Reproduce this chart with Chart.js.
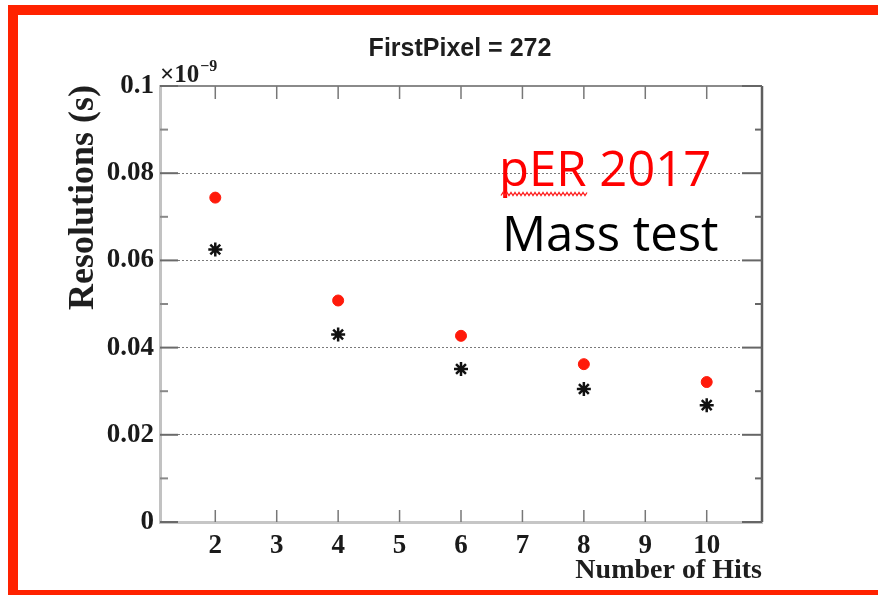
<!DOCTYPE html>
<html>
<head>
<meta charset="utf-8">
<script src="https://cdn.jsdelivr.net/npm/chart.js@4.4.1/dist/chart.umd.min.js"></script>
<style>
  html, body { margin: 0; padding: 0; background: #fff; overflow: hidden; }
  #frame {
    position: absolute; left: 8px; top: 5px; width: 900px; height: 575px;
    border-left: 10px solid #ff2200; border-top: 10px solid #ff2200; border-bottom: 10px solid #ff2200;
  }
  #plot { position: absolute; left: 0; top: 0; }
</style>
</head>
<body>
<div id="frame"></div>
<canvas id="plot" width="878" height="595"></canvas>
<script>
// number of hits per track segment
const hits = [2, 4, 6, 8, 10];
// time resolution, units of 1e-9 s
const resPER2017 = [0.0744, 0.0508, 0.0427, 0.0362, 0.0321];
const resMassTest = [0.0625, 0.0430, 0.0351, 0.0305, 0.0268];

const xTicks = [2, 3, 4, 5, 6, 7, 8, 9, 10];
const yTicks = [0, 0.02, 0.04, 0.06, 0.08, 0.1];
const yMinorTicks = [0.01, 0.03, 0.05, 0.07, 0.09];

const serif = '"Liberation Serif", "DejaVu Serif", serif';

function toPoints(xs, ys) {
  return xs.map((x, i) => ({ x: x, y: ys[i] }));
}

// frame, inward ticks and the free-floating text
const decorations = {
  id: 'decorations',
  beforeDatasetsDraw(chart) {
    const { ctx, chartArea: a, scales } = chart;
    ctx.save();
    // top and right edges of the frame
    ctx.lineCap = 'butt';
    ctx.strokeStyle = '#8a8a8a';
    ctx.lineWidth = 2;
    ctx.beginPath();
    ctx.moveTo(a.left, a.top);
    ctx.lineTo(a.right, a.top);
    ctx.stroke();
    ctx.strokeStyle = '#5e5e5e';
    ctx.lineWidth = 2.5;
    ctx.beginPath();
    ctx.moveTo(a.right, a.top);
    ctx.lineTo(a.right, a.bottom);
    ctx.stroke();

    // y ticks on both sides
    ctx.lineWidth = 2;
    yTicks.forEach(v => {
      const y = scales.y.getPixelForValue(v);
      ctx.strokeStyle = '#6a6a6a';
      ctx.beginPath(); ctx.moveTo(a.left, y); ctx.lineTo(a.left + 18, y); ctx.stroke();
      ctx.strokeStyle = '#666';
      ctx.beginPath(); ctx.moveTo(a.right - 20, y); ctx.lineTo(a.right, y); ctx.stroke();
    });
    yMinorTicks.forEach(v => {
      const y = scales.y.getPixelForValue(v);
      ctx.strokeStyle = '#888';
      ctx.beginPath(); ctx.moveTo(a.left, y); ctx.lineTo(a.left + 8, y); ctx.stroke();
      ctx.strokeStyle = '#666';
      ctx.beginPath(); ctx.moveTo(a.right - 7, y); ctx.lineTo(a.right, y); ctx.stroke();
    });

    // x ticks, top and bottom
    ctx.lineWidth = 1.5;
    ctx.strokeStyle = '#777';
    xTicks.forEach(v => {
      const x = scales.x.getPixelForValue(v);
      ctx.beginPath(); ctx.moveTo(x, a.bottom); ctx.lineTo(x, a.bottom - 12); ctx.stroke();
      ctx.beginPath(); ctx.moveTo(x, a.top); ctx.lineTo(x, a.top + 13); ctx.stroke();
    });
    ctx.restore();
  },
  afterDraw(chart) {
    const { ctx, chartArea: a } = chart;
    ctx.save();
    ctx.fillStyle = '#1e1e1e';

    // title
    ctx.font = 'bold 25px "Liberation Sans", Arial, sans-serif';
    ctx.textAlign = 'center';
    ctx.textBaseline = 'alphabetic';
    ctx.fillText('FirstPixel = 272', 460, 56);

    // axis exponent
    ctx.textAlign = 'left';
    ctx.font = 'bold 25px ' + serif;
    ctx.fillText('\u00d710', a.left, 82);
    const w = ctx.measureText('\u00d710').width;
    ctx.font = 'bold 16px ' + serif;
    ctx.fillText('\u22129', a.left + w + 1, 71);

    // y axis title
    ctx.save();
    ctx.translate(93, a.top - 1);
    ctx.rotate(-Math.PI / 2);
    ctx.textAlign = 'right';
    ctx.font = 'bold 36px ' + serif;
    ctx.fillText('Resolutions (s)', 0, 0);
    ctx.restore();

    // x axis title
    ctx.textAlign = 'right';
    ctx.font = 'bold 28px ' + serif;
    ctx.fillText('Number of Hits', a.right, 578);

    // dataset captions
    ctx.textAlign = 'left';
    ctx.font = '49px "Open Sans", sans-serif';
    ctx.fillStyle = '#ff0000';
    ctx.fillText('pER 2017', 499, 186);
    ctx.fillStyle = '#000';
    ctx.fillText('Mass test', 502, 251);

    // squiggle under "pER"
    const uw = ctx.measureText('pER').width;
    ctx.strokeStyle = '#ff2020';
    ctx.lineWidth = 1.3;
    ctx.beginPath();
    for (let x = 501, k = 0; x <= 501 + uw; x += 2, k++) {
      const y = 194 + (k % 2 ? -1.5 : 1.5);
      if (k === 0) ctx.moveTo(x, y); else ctx.lineTo(x, y);
    }
    ctx.stroke();
    ctx.restore();
  }
};

new Chart(document.getElementById('plot'), {
  type: 'scatter',
  data: {
    datasets: [
      {
        label: 'pER 2017',
        data: toPoints(hits, resPER2017),
        pointStyle: 'circle',
        pointRadius: 5.5,
        backgroundColor: '#ff1a0a',
        borderColor: '#ff1a0a',
        borderWidth: 1
      },
      {
        label: 'Mass test',
        data: toPoints(hits, resMassTest),
        pointStyle: 'star',
        pointRadius: 7,
        borderColor: '#111',
        backgroundColor: '#111',
        borderWidth: 2.5
      }
    ]
  },
  options: {
    responsive: false,
    animation: false,
    layout: { padding: { left: 0, top: 86, right: 116, bottom: 0 } },
    plugins: {
      legend: { display: false },
      tooltip: { enabled: false }
    },
    scales: {
      x: {
        type: 'linear',
        min: 1.1,
        max: 10.9,
        afterBuildTicks: s => { s.ticks = xTicks.map(v => ({ value: v })); },
        afterFit: s => { s.height = 73; },
        grid: { display: false },
        border: { display: true, color: '#c6c6c6', width: 3 },
        ticks: {
          autoSkip: false,
          maxRotation: 0,
          padding: 0,
          color: '#1a1a1a',
          font: { family: serif, size: 27, weight: 'bold' }
        }
      },
      y: {
        min: 0,
        max: 0.1,
        afterBuildTicks: s => { s.ticks = yTicks.map(v => ({ value: v })); },
        afterFit: s => { s.width = 160; },
        grid: {
          drawTicks: false,
          lineWidth: 1,
          color: c => (c.tick && (c.tick.value === 0 || c.tick.value === 0.1)) ? 'rgba(0,0,0,0)' : '#7a7a7a'
        },
        border: { display: true, color: '#c2c2c2', width: 3, dash: [2, 2] },
        ticks: {
          padding: 6,
          color: '#1a1a1a',
          font: { family: serif, size: 27, weight: 'bold' },
          callback: v => String(parseFloat(v.toFixed(2)))
        }
      }
    }
  },
  plugins: [decorations]
});
</script>
</body>
</html>
